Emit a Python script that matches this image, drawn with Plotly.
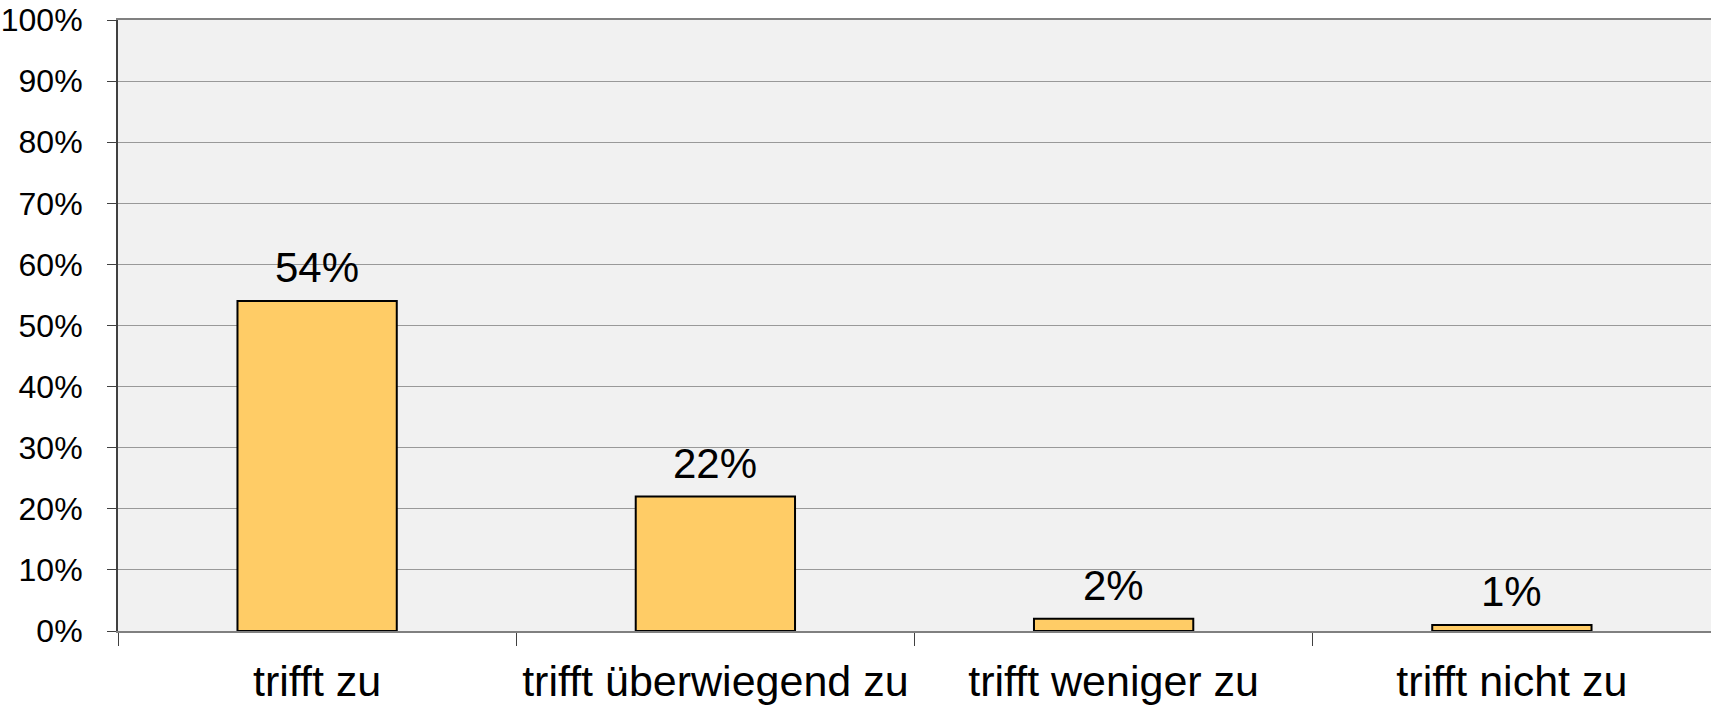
import plotly.graph_objects as go

categories = ["trifft zu", "trifft überwiegend zu", "trifft weniger zu", "trifft nicht zu"]
shares = [0.54, 0.22, 0.02, 0.01]
value_labels = ["54%", "22%", "2%", "1%"]
y_ticks = [i / 10 for i in range(11)]

fig = go.Figure(go.Bar(
    x=categories,
    y=shares,
    width=0.4,
    marker=dict(color="#FFCC66", line=dict(color="#000000", width=2)),
    showlegend=False,
))

for cat, val, lab in zip(categories, shares, value_labels):
    fig.add_annotation(x=cat, y=val, text=lab, showarrow=False,
                       yanchor="bottom", yshift=8,
                       font=dict(size=42, color="#000000"))

fig.update_xaxes(
    type="category", tickson="boundaries", ticks="outside", ticklen=13,
    tickcolor="#404040", tickwidth=1,
    showline=True, linecolor="#808080", linewidth=2, mirror=True,
    showgrid=False, tickfont=dict(size=43, color="#000000"),
    ticklabelstandoff=11, automargin=False, ticklabeloverflow="allow",
)
fig.update_yaxes(
    range=[0, 1], tickvals=y_ticks, tickformat=".0%",
    ticks="outside", ticklen=9, tickcolor="#404040",
    showline=True, linecolor="#404040", linewidth=2,
    showgrid=True, gridcolor="#999999", gridwidth=1,
    zeroline=False, tickfont=dict(size=32, color="#000000"),
    ticklabelstandoff=18, automargin=False, ticklabeloverflow="allow",
)
fig.update_layout(
    width=1711, height=707,
    margin=dict(l=118, r=0, t=20, b=76),
    plot_bgcolor="#F1F1F1", paper_bgcolor="#FFFFFF",
    font=dict(family="Liberation Sans, Arial, sans-serif"),
    bargap=0.6,
)

# drop the default 8px page margin so the chart fills the window
fig.write_html("out.html", config={"displayModeBar": False},
               post_script="document.body.style.margin='0';")
